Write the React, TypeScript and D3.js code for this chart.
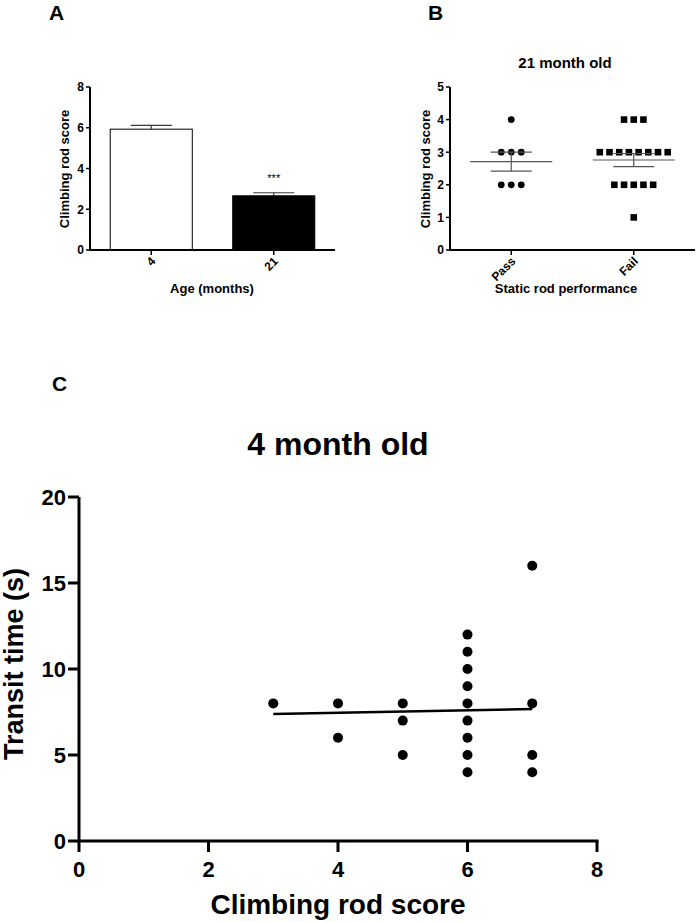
import React from "react";
import * as d3 from "d3";

// ---------- Data ----------
// Panel A
const ageCategories = ["4", "21"];
const ageMeans = [5.93, 2.66];
const ageSems = [0.19, 0.15];
const aTicks = [0, 2, 4, 6, 8];

// Panel B
const rodCategories = ["Pass", "Fail"];
const passScores = [4, 3, 3, 3, 2, 2, 2];
const failScores = [4, 4, 4, 3, 3, 3, 3, 3, 3, 3, 3, 2, 2, 2, 2, 2, 1];
const rodMeans = [2.71, 2.76];
const rodSems = [0.29, 0.2];
const bTicks = [0, 1, 2, 3, 4, 5];

// Panel C
const climbScore = [3, 4, 4, 5, 5, 5, 6, 6, 6, 6, 6, 6, 6, 6, 6, 7, 7, 7, 7];
const transitTime = [8, 8, 6, 8, 7, 5, 12, 11, 10, 9, 8, 7, 6, 5, 4, 16, 8, 5, 4];
const fitX = [3, 7];
const fitY = [7.38, 7.67];
const cXTicks = [0, 2, 4, 6, 8];
const cYTicks = [0, 5, 10, 15, 20];

const FONT = "'Liberation Sans', Arial, Helvetica, sans-serif";

function swarm(values: number[], spacing: number) {
  const counts = new Map<number, number>();
  values.forEach((v) => counts.set(v, (counts.get(v) || 0) + 1));
  const seen = new Map<number, number>();
  return values.map((v) => {
    const k = counts.get(v)!;
    const i = seen.get(v) || 0;
    seen.set(v, i + 1);
    return { v, dx: (i - (k - 1) / 2) * spacing };
  });
}

export default function App() {
  // ---- Panel A scales ----
  const aX = d3.scaleBand<string>().domain(ageCategories).range([90, 335]).paddingInner(0.33).paddingOuter(0.165);
  const aY = d3.scaleLinear().domain([0, 8]).range([250, 87]);

  // ---- Panel B scales ----
  const bX = d3.scaleBand<string>().domain(rodCategories).range([450, 695]).paddingInner(0.33).paddingOuter(0.165);
  const bY = d3.scaleLinear().domain([0, 5]).range([250, 87]);
  const bCenter = (c: string) => bX(c)! + bX.bandwidth() / 2;
  const passPts = swarm(passScores, 10);
  const failPts = swarm(failScores, 9.7);

  // ---- Panel C scales ----
  const cX = d3.scaleLinear().domain([0, 8]).range([79, 597]);
  const cY = d3.scaleLinear().domain([0, 20]).range([841, 497]);
  const fitLine = d3.line<number>().x((_, i) => cX(fitX[i])).y((d) => cY(d));

  const errColor = "#3a3a3a";

  return (
    <svg
      width={696}
      height={922}
      style={{ position: "absolute", left: 0, top: 0, background: "#fff" }}
      fontFamily={FONT}
    >
      <rect x={0} y={0} width={696} height={922} fill="#fff" />

      {/* ================= Panel A ================= */}
      <text x={49} y={20} fontSize={21} fontWeight="bold">A</text>
      {ageCategories.map((c, i) => {
        const x = aX(c)!;
        const w = aX.bandwidth();
        const cx = x + w / 2;
        const top = aY(ageMeans[i]);
        const errTop = aY(ageMeans[i] + ageSems[i]);
        return (
          <g key={c}>
            <line x1={cx} x2={cx} y1={top} y2={errTop} stroke={errColor} strokeWidth={1.2} />
            <line x1={cx - w / 4} x2={cx + w / 4} y1={errTop} y2={errTop} stroke={errColor} strokeWidth={1.2} />
            <rect
              x={x}
              y={top}
              width={w}
              height={aY(0) - top}
              fill={i === 0 ? "#fff" : "#000"}
              stroke="#000"
              strokeWidth={1}
            />
          </g>
        );
      })}
      <text x={aX("21")! + aX.bandwidth() / 2} y={aY(ageMeans[1] + ageSems[1]) - 11} fontSize={11} textAnchor="middle">***</text>
      {/* axes */}
      <line x1={90} x2={90} y1={aY(8)} y2={aY(0) + 1} stroke="#000" strokeWidth={2} />
      <line x1={89} x2={335} y1={aY(0)} y2={aY(0)} stroke="#000" strokeWidth={2} />
      {aTicks.map((t) => (
        <g key={t}>
          <line x1={86} x2={90} y1={aY(t)} y2={aY(t)} stroke="#000" strokeWidth={1.5} />
          <text x={84} y={aY(t)} dy="0.36em" fontSize={12} fontWeight="bold" textAnchor="end">{t}</text>
        </g>
      ))}
      {ageCategories.map((c) => {
        const cx = aX(c)! + aX.bandwidth() / 2;
        return (
          <g key={c}>
            <line x1={cx} x2={cx} y1={aY(0)} y2={aY(0) + 5} stroke="#000" strokeWidth={1.5} />
            <text transform={`translate(${cx + 5},${262}) rotate(-45)`} fontSize={12} fontWeight="bold" textAnchor="end">{c}</text>
          </g>
        );
      })}
      <text transform={`translate(69,169) rotate(-90)`} fontSize={13} fontWeight="bold" textAnchor="middle">Climbing rod score</text>
      <text x={212} y={293} fontSize={13} fontWeight="bold" textAnchor="middle">Age (months)</text>

      {/* ================= Panel B ================= */}
      <text x={428} y={20} fontSize={21} fontWeight="bold">B</text>
      <text x={565} y={68} fontSize={15} fontWeight="bold" textAnchor="middle">21 month old</text>
      {/* points */}
      {passPts.map((p, i) => (
        <circle key={"p" + i} cx={bCenter("Pass") + p.dx} cy={bY(p.v)} r={3.4} fill="#000" />
      ))}
      {failPts.map((p, i) => (
        <rect key={"f" + i} x={bCenter("Fail") + p.dx - 3.3} y={bY(p.v) - 3.3} width={6.6} height={6.6} fill="#000" />
      ))}
      {/* mean & SEM */}
      {rodCategories.map((c, i) => {
        const cx = bCenter(c);
        const m = bY(rodMeans[i]);
        const lo = bY(rodMeans[i] - rodSems[i]);
        const hi = bY(rodMeans[i] + rodSems[i]);
        const hw = bX.bandwidth() / 2;
        return (
          <g key={c} stroke="#555" strokeWidth={1.2}>
            <line x1={cx - hw} x2={cx + hw} y1={m} y2={m} />
            <line x1={cx} x2={cx} y1={lo} y2={hi} />
            <line x1={cx - hw / 2} x2={cx + hw / 2} y1={lo} y2={lo} />
            <line x1={cx - hw / 2} x2={cx + hw / 2} y1={hi} y2={hi} />
          </g>
        );
      })}
      {/* axes */}
      <line x1={450} x2={450} y1={bY(5)} y2={bY(0) + 1} stroke="#000" strokeWidth={2} />
      <line x1={449} x2={695} y1={bY(0)} y2={bY(0)} stroke="#000" strokeWidth={2} />
      {bTicks.map((t) => (
        <g key={t}>
          <line x1={446} x2={450} y1={bY(t)} y2={bY(t)} stroke="#000" strokeWidth={1.5} />
          <text x={444} y={bY(t)} dy="0.36em" fontSize={12} fontWeight="bold" textAnchor="end">{t}</text>
        </g>
      ))}
      {rodCategories.map((c) => {
        const cx = bCenter(c);
        return (
          <g key={c}>
            <line x1={cx} x2={cx} y1={bY(0)} y2={bY(0) + 5} stroke="#000" strokeWidth={1.5} />
            <text transform={`translate(${cx + 5},${262}) rotate(-45)`} fontSize={12} fontWeight="bold" textAnchor="end">{c}</text>
          </g>
        );
      })}
      <text transform={`translate(430,169) rotate(-90)`} fontSize={13} fontWeight="bold" textAnchor="middle">Climbing rod score</text>
      <text x={566} y={293} fontSize={13} fontWeight="bold" textAnchor="middle">Static rod performance</text>

      {/* ================= Panel C ================= */}
      <text x={52} y={391} fontSize={21} fontWeight="bold">C</text>
      <text x={338} y={455} fontSize={32} fontWeight="bold" textAnchor="middle">4 month old</text>
      {climbScore.map((x, i) => (
        <circle key={"c" + i} cx={cX(x)} cy={cY(transitTime[i])} r={5} fill="#000" />
      ))}
      <path d={fitLine(fitY) || ""} fill="none" stroke="#000" strokeWidth={2.5} />
      {/* axes */}
      <line x1={cX(0)} x2={cX(0)} y1={cY(20)} y2={cY(0) + 1.5} stroke="#000" strokeWidth={3} />
      <line x1={cX(0) - 1.5} x2={cX(8) + 1.5} y1={cY(0)} y2={cY(0)} stroke="#000" strokeWidth={3} />
      {cYTicks.map((t) => (
        <g key={t}>
          <line x1={cX(0) - 11} x2={cX(0)} y1={cY(t)} y2={cY(t)} stroke="#000" strokeWidth={3} />
          <text x={cX(0) - 13} y={cY(t)} dy="0.36em" fontSize={22} fontWeight="bold" textAnchor="end">{t}</text>
        </g>
      ))}
      {cXTicks.map((t) => (
        <g key={t}>
          <line x1={cX(t)} x2={cX(t)} y1={cY(0)} y2={cY(0) + 11} stroke="#000" strokeWidth={3} />
          <text x={cX(t)} y={cY(0) + 36} fontSize={22} fontWeight="bold" textAnchor="middle">{t}</text>
        </g>
      ))}
      <text transform={`translate(23,664) rotate(-90)`} fontSize={27} fontWeight="bold" textAnchor="middle">Transit time (s)</text>
      <text x={338} y={914} fontSize={28} fontWeight="bold" textAnchor="middle">Climbing rod score</text>
    </svg>
  );
}
